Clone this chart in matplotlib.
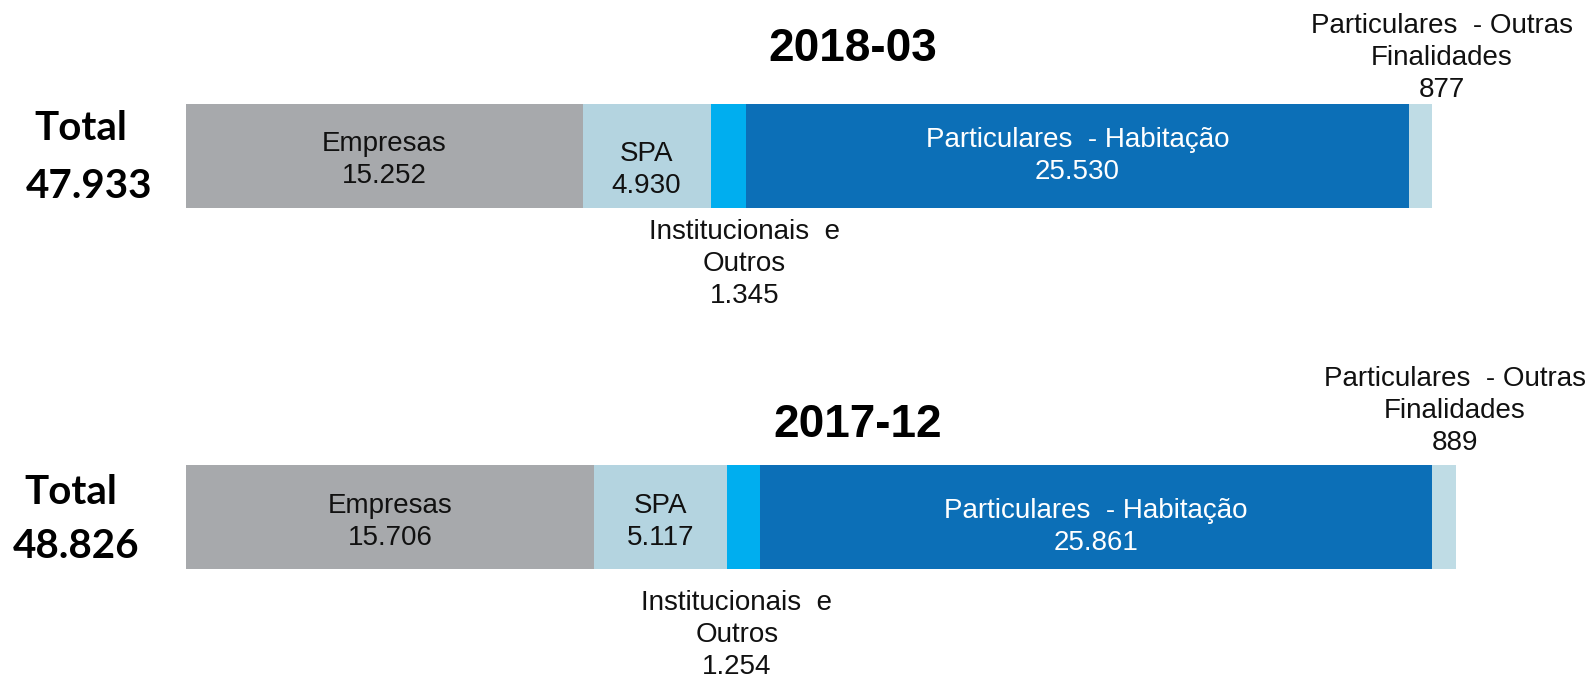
import matplotlib
matplotlib.use("Agg")
import matplotlib.pyplot as plt
import matplotlib.transforms as mtransforms

# ---- data ----
periods = ["2018-03", "2017-12"]
totals = ["47.933", "48.826"]
categories = ["Empresas", "SPA", "Institucionais  e\nOutros", "Particulares  - Habitação",
              "Particulares  - Outras\nFinalidades"]
values_2018_03 = [15252, 4930, 1345, 25530, 877]
values_2017_12 = [15706, 5117, 1254, 25861, 889]
value_labels_2018_03 = ["15.252", "4.930", "1.345", "25.530", "877"]
value_labels_2017_12 = ["15.706", "5.117", "1.254", "25.861", "889"]

# ---- styles / layout ----
colors = ["#A7A9AC", "#B4D4E0", "#00AEEF", "#0C6FB7", "#BFDCE5"]
text_colors = ["#111111", "#111111", "#111111", "white", "#111111"]
W, H = 1593, 679
left_px = 186.0
px_per_unit = 0.026
row_center_px = [156.0, 517.0]
row_gap = row_center_px[1] - row_center_px[0]
bar_h_px = 104.0

# label offsets (pixels) per row: (dx from segment centre, dy from bar centre)
label_offsets = [
    [(0, 4), (0, 14), (16, 108), (0, 0), (21, -98)],
    [(0, 5), (0, 5), (-7, 118), (0, 10), (11, -106)],
]
title_pos = [(853, 49), (858, 425)]
total_word_pos = [(81, 129), (71, 493)]
total_num_pos = [(89, 186), (76, 546)]

fig = plt.figure(figsize=(W / 100, H / 100), dpi=100)
ax = fig.add_axes([0, 0, 1, 1])
ax.set_xlim(-left_px / px_per_unit, (W - left_px) / px_per_unit)
y_top = 0 - row_center_px[0] / row_gap
y_bot = (H - row_center_px[0]) / row_gap
ax.set_ylim(y_bot, y_top)
ax.axis("off")

def py(ypx):
    return (ypx - row_center_px[0]) / row_gap

font = "Liberation Sans"
fs = 20
all_vals = [values_2018_03, values_2017_12]
all_labels = [value_labels_2018_03, value_labels_2017_12]
bt = mtransforms.blended_transform_factory(ax.transAxes, ax.transData)
for r, (vals, vlabels) in enumerate(zip(all_vals, all_labels)):
    left = 0
    for i, (v, lab) in enumerate(zip(vals, vlabels)):
        ax.barh(r, v, left=left, height=bar_h_px / row_gap, color=colors[i],
                edgecolor="none")
        dx, dy = label_offsets[r][i]
        cx = left + v / 2 + dx / px_per_unit
        cy = r + dy / row_gap
        ax.text(cx, cy, categories[i] + "\n" + lab, ha="center", va="center",
                fontsize=fs, family=font, color=text_colors[i], linespacing=1.3)
        left += v
    # title
    tx, ty = title_pos[r]
    ax.text(tx / W, py(ty), periods[r], ha="center", va="center",
            fontsize=33, fontweight="bold", family=font, color="black",
            transform=bt)
    # totals
    wx, wy = total_word_pos[r]
    nx, ny = total_num_pos[r]
    ax.text(wx / W, py(wy), "Total", ha="center", va="center", fontsize=29,
            fontweight="bold", family="Lato", color="black", transform=bt)
    ax.text(nx / W, py(ny), totals[r], ha="center", va="center", fontsize=29,
            fontweight="bold", family="Lato", color="black", transform=bt)

fig.savefig("out.png", dpi=100)
